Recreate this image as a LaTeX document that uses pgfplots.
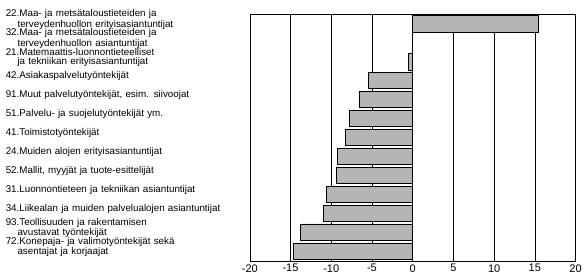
\documentclass[border=0pt]{standalone}
\usepackage{fontspec}
\setmainfont{Liberation Sans}
\usepackage{pgfplots}
\pgfplotsset{compat=1.18}
\begin{document}
\begin{tikzpicture}
\begin{axis}[
  scale only axis,
  width=326pt, height=247pt,
  xbar, bar width=0.88,
  y dir=reverse,
  ymin=-0.5, ymax=12.5,
  xmin=-20, xmax=20,
  xtick={-20,-15,...,20},
  ytick={0,...,12},
  yticklabels={
    {22.Maa- ja metsätaloustieteiden ja\\\hspace*{1.2em}terveydenhuollon erityisasiantuntijat},
    {32.Maa- ja metsätaloustieteiden ja\\\hspace*{1.2em}terveydenhuollon asiantuntijat},
    {21.Matemaattis-luonnontieteelliset\\\hspace*{1.2em}ja tekniikan erityisasiantuntijat},
    {42.Asiakaspalvelutyöntekijät},
    {91.Muut palvelutyöntekijät, esim. siivoojat},
    {51.Palvelu- ja suojelutyöntekijät ym.},
    {41.Toimistotyöntekijät},
    {24.Muiden alojen erityisasiantuntijat},
    {52.Mallit, myyjät ja tuote-esittelijät},
    {31.Luonnontieteen ja tekniikan asiantuntijat},
    {34.Liikealan ja muiden palvelualojen asiantuntijat},
    {93.Teollisuuden ja rakentamisen\\\hspace*{1.2em}avustavat työntekijät},
    {72.Konepaja- ja valimotyöntekijät sekä\\\hspace*{1.2em}asentajat ja korjaajat}},
  yticklabel style={font=\fontsize{9.8}{9}\selectfont, align=left, text width=242pt, inner xsep=0pt, anchor=east, yshift=4pt, xshift=-2pt},
  major tick length=0pt,
  xmajorgrids, grid style={black, line width=0.5pt},
  xticklabel style={font=\fontsize{11}{12}\selectfont},
  /pgf/number format/assume math mode=true,
  axis line style={black, line width=0.6pt},
]
\addplot[draw=black, line width=0.6pt, fill=gray!58] coordinates {
  (15.4,0) (0,1) (-0.5,2) (-5.4,3) (-6.6,4) (-7.8,5) (-8.3,6)
  (-9.25,7) (-9.4,8) (-10.6,9) (-11.0,10) (-13.8,11) (-14.6,12)
};
\end{axis}
\path ([xshift=-250pt,yshift=-15pt]current axis.south west) rectangle ([xshift=9pt,yshift=14pt]current axis.north east);
\end{tikzpicture}
\end{document}
